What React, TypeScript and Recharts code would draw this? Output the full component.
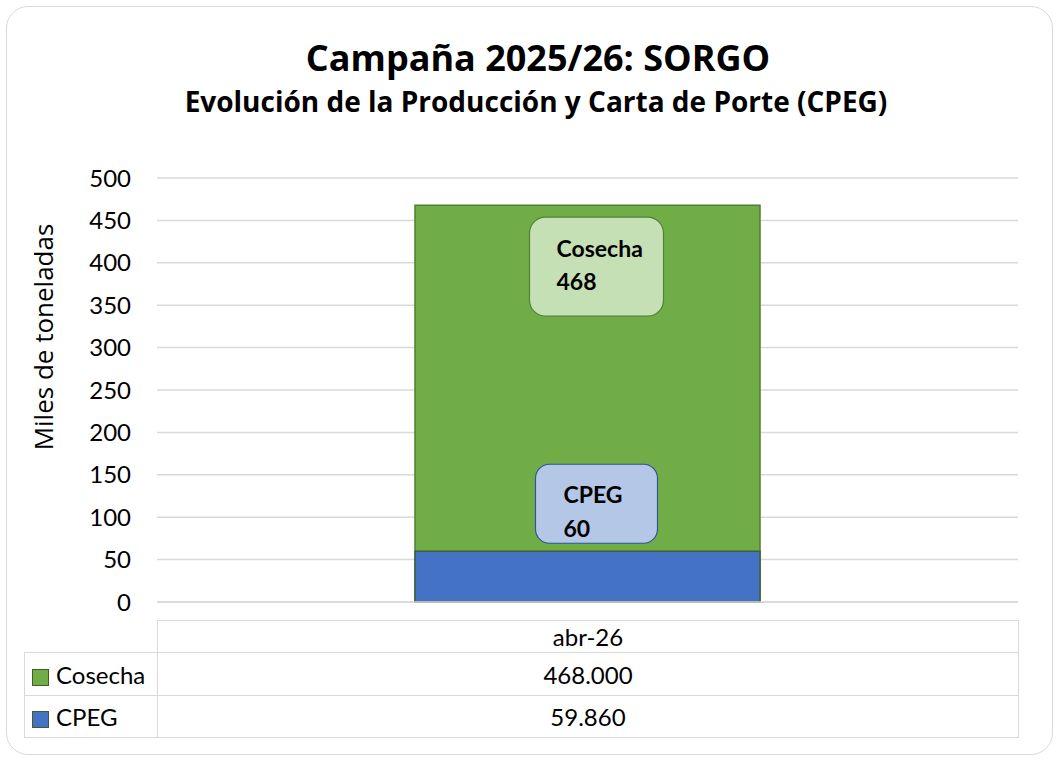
import React from 'react';
import { BarChart, Bar, XAxis, YAxis, CartesianGrid, LabelList } from 'recharts';

const categories = ['abr-26'];
const cosecha = [468];
const cpeg = [59.86];
const tableCosecha = ['468.000'];
const tableCpeg = ['59.860'];
const yTicks = [0, 50, 100, 150, 200, 250, 300, 350, 400, 450, 500];

const data = categories.map((c, i) => ({ name: c, Cosecha: cosecha[i], CPEG: cpeg[i] }));

const font = 'Lato, "Noto Sans", sans-serif';
const wideFont = '"Open Sans", "Noto Sans", sans-serif';

const GREEN = '#70ad47';
const BLUE = '#4472c4';
const GRID = '#d9d9d9';

function CosechaLabel(props: any) {
  const { x, y, width, value } = props;
  const left = x + width / 2 - 58;
  const top = y + 12;
  return (
    <g>
      <rect x={left} y={top} width={134} height={99} rx={16} fill="#c5e0b4" stroke="#548235" strokeWidth={1.2} />
      <text x={left + 27} y={top + 40} fontFamily={font} fontWeight={700} fontSize={23} fill="#000">Cosecha</text>
      <text x={left + 27} y={top + 73} fontFamily={font} fontWeight={700} fontSize={23} fill="#000">{Math.round(value)}</text>
    </g>
  );
}

function CpegLabel(props: any) {
  const { x, y, width, value } = props;
  const left = x + width / 2 - 52;
  const top = y - 8 - 79;
  return (
    <g>
      <rect x={left} y={top} width={122} height={79} rx={14} fill="#b4c7e7" stroke="#2f5597" strokeWidth={1.2} />
      <text x={left + 28} y={top + 39} fontFamily={font} fontWeight={700} fontSize={23} fill="#000">CPEG</text>
      <text x={left + 28} y={top + 73} fontFamily={font} fontWeight={700} fontSize={23} fill="#000">{Math.round(value)}</text>
    </g>
  );
}

const cell: React.CSSProperties = {
  border: `1.5px solid ${GRID}`,
  textAlign: 'center',
  fontFamily: font,
  fontSize: 24,
  color: '#000',
  padding: 0,
};

const key = (color: string): React.CSSProperties => ({
  display: 'inline-block',
  width: 15,
  height: 15,
  background: color,
  border: '1.5px solid #3f5f2a',
  margin: '0 7px 0 7px',
  verticalAlign: '-2px',
});

export default function App() {
  return (
    <div style={{ position: 'relative', width: 1060, height: 760, background: '#fff', overflow: 'hidden' }}>
      <style>{'body{margin:0}'}</style>
      <div
        style={{
          position: 'absolute', left: 6, top: 6, width: 1047, height: 749,
          border: `1.5px solid ${GRID}`, borderRadius: 22, boxSizing: 'border-box',
        }}
      />
      <div style={{ position: 'absolute', left: 0, top: 0 }}>
        <BarChart
          width={1060}
          height={620}
          data={data}
          margin={{ top: 178, right: 42, left: 0, bottom: 18 }}
          barSize={345}
          barGap={-345}
        >
          <CartesianGrid vertical={false} stroke={GRID} strokeWidth={1.5} />
          <XAxis dataKey="name" hide />
          <YAxis
            width={157}
            domain={[0, 500]}
            ticks={yTicks}
            tickLine={false}
            axisLine={false}
            tickMargin={20}
            tick={{ fontFamily: font, fontSize: 24, fill: '#000' }}
          />
          <Bar dataKey="Cosecha" fill={GREEN} stroke="#507e32" strokeWidth={1.5} isAnimationActive={false}>
            <LabelList dataKey="Cosecha" content={CosechaLabel} />
          </Bar>
          <Bar dataKey="CPEG" fill={BLUE} stroke="#3f5f3a" strokeWidth={1.5} isAnimationActive={false}>
            <LabelList dataKey="CPEG" content={CpegLabel} />
          </Bar>
        </BarChart>
      </div>
      <svg width={1060} height={620} style={{ position: 'absolute', left: 0, top: 0, pointerEvents: 'none' }}>
        <text x={538} y={71} textAnchor="middle" fontFamily={wideFont} fontWeight={700} fontSize={36} fill="#000">
          Campaña 2025/26: SORGO
        </text>
        <text x={536} y={112} textAnchor="middle" fontFamily={wideFont} fontWeight={700} fontSize={28} fill="#000">
          Evolución de la Producción y Carta de Porte (CPEG)
        </text>
        <text x={53} y={337} textAnchor="middle" transform="rotate(-90 53 337)" fontFamily={wideFont} fontSize={26} fill="#000">
          Miles de toneladas
        </text>
        <line x1={157} x2={1018} y1={602} y2={602} stroke={GRID} strokeWidth={1.5} />
      </svg>
      <table
        style={{
          position: 'absolute', left: 24, top: 620, width: 994, borderCollapse: 'collapse', tableLayout: 'fixed',
        }}
      >
        <colgroup>
          <col style={{ width: 133 }} />
          <col style={{ width: 861 }} />
        </colgroup>
        <tbody>
          <tr style={{ height: 32 }}>
            <td style={{ ...cell, border: 'none', borderRight: `1.5px solid ${GRID}` }} />
            {categories.map((c) => (
              <td key={c} style={cell}>{c}</td>
            ))}
          </tr>
          <tr style={{ height: 43 }}>
            <td style={{ ...cell, textAlign: 'left' }}>
              <span style={key(GREEN)} />
              Cosecha
            </td>
            {tableCosecha.map((v, i) => (
              <td key={i} style={cell}>{v}</td>
            ))}
          </tr>
          <tr style={{ height: 42 }}>
            <td style={{ ...cell, textAlign: 'left' }}>
              <span style={key(BLUE)} />
              CPEG
            </td>
            {tableCpeg.map((v, i) => (
              <td key={i} style={cell}>{v}</td>
            ))}
          </tr>
        </tbody>
      </table>
    </div>
  );
}
